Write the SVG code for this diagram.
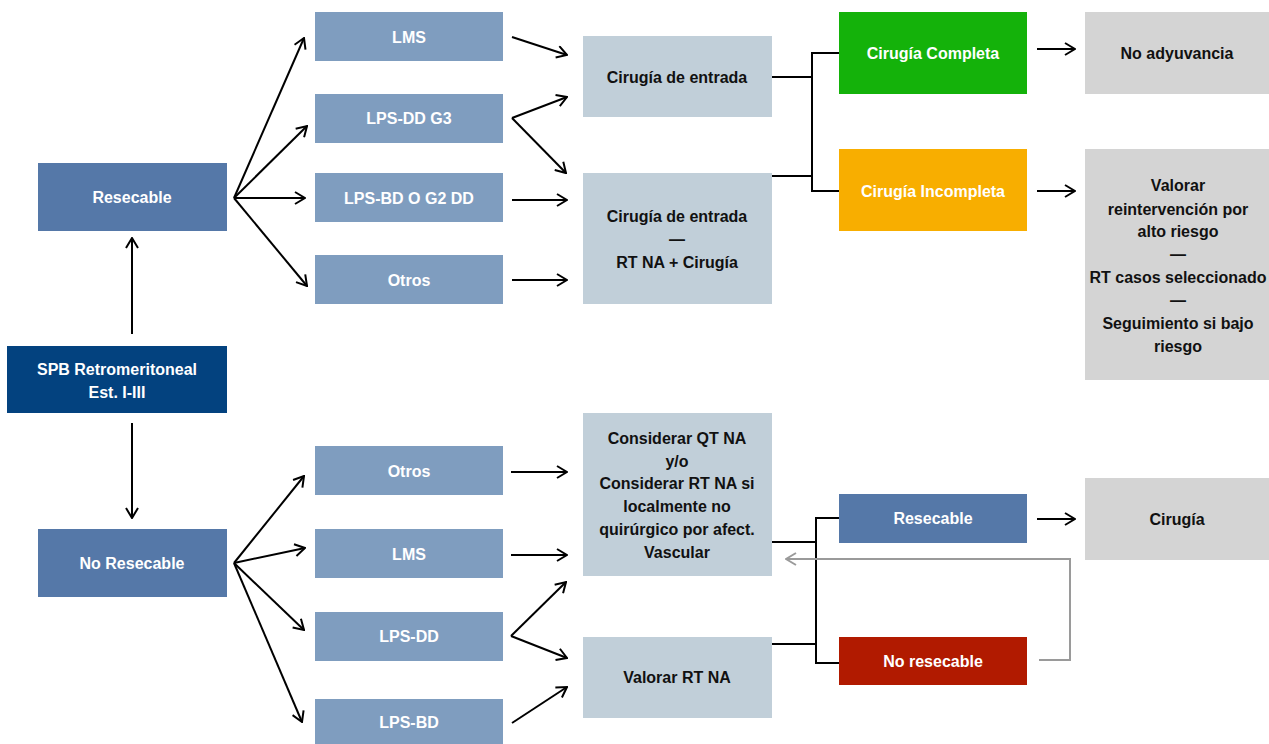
<svg xmlns="http://www.w3.org/2000/svg" width="1269" height="744" viewBox="0 0 1269 744">
<defs>
<marker id="ah" viewBox="0 0 12 14" refX="11" refY="7" markerWidth="12" markerHeight="14" markerUnits="userSpaceOnUse" orient="auto">
<path d="M1,1 L11,7 L1,13" fill="none" stroke="#000" stroke-width="2"/>
</marker>
<marker id="ahg" viewBox="0 0 12 14" refX="11" refY="7" markerWidth="12" markerHeight="14" markerUnits="userSpaceOnUse" orient="auto">
<path d="M1,1 L11,7 L1,13" fill="none" stroke="#9a9a9a" stroke-width="2"/>
</marker>
<style>
text{font-family:"Liberation Sans",Arial,sans-serif;font-weight:bold;font-size:16px;text-anchor:middle}
.w{fill:#fff}
.k{fill:#111}
.dark{fill:#03427f}
.mid{fill:#5578a8}
.lt{fill:#7f9dbf}
.pale{fill:#c1cfd9}
.gray{fill:#d4d4d4}
.ar{stroke:#000;stroke-width:2;fill:none;marker-end:url(#ah)}
.ln{stroke:#000;stroke-width:2;fill:none}
</style>
</defs>
<rect width="1269" height="744" fill="#fff"/>

<g id="connectors">
<line class="ar" x1="132" y1="334" x2="132" y2="238"/>
<line class="ar" x1="132" y1="423" x2="132" y2="518"/>
<line class="ar" x1="234" y1="198" x2="304" y2="38"/>
<line class="ar" x1="234" y1="198" x2="307" y2="126"/>
<line class="ar" x1="234" y1="198" x2="305" y2="198"/>
<line class="ar" x1="234" y1="198" x2="307" y2="286"/>
<line class="ar" x1="234" y1="563" x2="304" y2="476"/>
<line class="ar" x1="234" y1="563" x2="305" y2="548"/>
<line class="ar" x1="234" y1="563" x2="304" y2="630"/>
<line class="ar" x1="234" y1="563" x2="302" y2="722"/>
<line class="ar" x1="512" y1="37" x2="567" y2="55"/>
<line class="ar" x1="512" y1="118" x2="567" y2="97"/>
<line class="ar" x1="512" y1="118" x2="566" y2="173"/>
<line class="ar" x1="512" y1="200" x2="567" y2="200"/>
<line class="ar" x1="512" y1="280" x2="567" y2="280"/>
<line class="ar" x1="511" y1="472" x2="567" y2="472"/>
<line class="ar" x1="511" y1="555" x2="567" y2="555"/>
<line class="ar" x1="511" y1="636" x2="566" y2="582"/>
<line class="ar" x1="511" y1="636" x2="567" y2="658"/>
<line class="ar" x1="512" y1="723" x2="567" y2="687"/>
<path class="ln" d="M772,77 H812 M772,176 H812 M812,53 V191 M811,53 H839 M811,191 H839"/>
<path class="ln" d="M772,542 H816 M772,644 H816 M816,518 V663 M815,518 H839 M815,663 H839"/>
<line class="ar" x1="1037" y1="49" x2="1075" y2="49"/>
<line class="ar" x1="1037" y1="191" x2="1075" y2="191"/>
<line class="ar" x1="1037" y1="519" x2="1075" y2="519"/>
<path d="M1039,660 H1070 V559 H786" fill="none" stroke="#9a9a9a" stroke-width="2" marker-end="url(#ahg)"/>
</g>

<g id="spb"><rect class="dark" x="7" y="346" width="220" height="67"/>
<text class="w" x="117" y="374.5">SPB Retromeritoneal</text><text class="w" x="117" y="397.5">Est. I-III</text></g>
<g id="resecable"><rect class="mid" x="38" y="163" width="189" height="68"/><text class="w" x="132" y="203">Resecable</text></g>
<g id="no-resecable"><rect class="mid" x="38" y="529" width="189" height="68"/><text class="w" x="132" y="568.5">No Resecable</text></g>

<g id="t-lms"><rect class="lt" x="315" y="12" width="188" height="49"/><text class="w" x="409" y="42.5">LMS</text></g>
<g id="t-lpsdd"><rect class="lt" x="315" y="94" width="188" height="49"/><text class="w" x="409" y="123.5">LPS-DD G3</text></g>
<g id="t-lpsbd"><rect class="lt" x="315" y="173" width="188" height="49"/><text class="w" x="409" y="203.5">LPS-BD O G2 DD</text></g>
<g id="t-otros"><rect class="lt" x="315" y="255" width="188" height="49"/><text class="w" x="409" y="285.5">Otros</text></g>

<g id="b-otros"><rect class="lt" x="315" y="446" width="188" height="49"/><text class="w" x="409" y="476.5">Otros</text></g>
<g id="b-lms"><rect class="lt" x="315" y="529" width="188" height="49"/><text class="w" x="409" y="559.5">LMS</text></g>
<g id="b-lpsdd"><rect class="lt" x="315" y="612" width="188" height="49"/><text class="w" x="409" y="641.5">LPS-DD</text></g>
<g id="b-lpsbd"><rect class="lt" x="315" y="699" width="188" height="45"/><text class="w" x="409" y="727.5">LPS-BD</text></g>

<g id="cir-entrada"><rect class="pale" x="583" y="36" width="189" height="81"/><text class="k" x="677" y="82.5">Cirugía de entrada</text></g>
<g id="cir-rt"><rect class="pale" x="583" y="173" width="189" height="131"/>
<text class="k" x="677" y="221.5">Cirugía de entrada</text><text class="k" x="677" y="244.5">—</text><text class="k" x="677" y="267.5">RT NA + Cirugía</text></g>
<g id="considerar"><rect class="pale" x="583" y="413" width="189" height="163"/>
<text class="k" x="677" y="443.5">Considerar QT NA</text>
<text class="k" x="677" y="466.5">y/o</text>
<text class="k" x="677" y="489">Considerar RT NA si</text>
<text class="k" x="677" y="512">localmente no</text>
<text class="k" x="677" y="534.5">quirúrgico por afect.</text>
<text class="k" x="677" y="558">Vascular</text></g>
<g id="valorar-rt"><rect class="pale" x="583" y="637" width="189" height="81"/><text class="k" x="677" y="683">Valorar RT NA</text></g>

<g id="completa"><rect fill="#14b20a" x="839" y="12" width="188" height="82"/><text class="w" x="933" y="59">Cirugía Completa</text></g>
<g id="incompleta"><rect fill="#f8ae00" x="839" y="149" width="188" height="82"/><text class="w" x="933" y="196.5">Cirugía Incompleta</text></g>
<g id="resecable2"><rect class="mid" x="839" y="494" width="188" height="49"/><text class="w" x="933" y="524">Resecable</text></g>
<g id="no-resecable2"><rect fill="#b11a00" x="839" y="637" width="188" height="48"/><text class="w" x="933" y="666.5">No resecable</text></g>

<g id="no-adyuvancia"><rect class="gray" x="1085" y="12" width="184" height="82"/><text class="k" x="1177" y="59">No adyuvancia</text></g>
<g id="valorar-reint"><rect class="gray" x="1085" y="149" width="184" height="231"/>
<text class="k" x="1178" y="191">Valorar</text>
<text class="k" x="1178" y="214.5">reintervención por</text>
<text class="k" x="1178" y="237">alto riesgo</text>
<text class="k" x="1178" y="259.5">—</text>
<text class="k" x="1178" y="283">RT casos seleccionado</text>
<text class="k" x="1178" y="306">—</text>
<text class="k" x="1178" y="329">Seguimiento si bajo</text>
<text class="k" x="1178" y="352">riesgo</text></g>
<g id="cirugia"><rect class="gray" x="1085" y="478" width="184" height="82"/><text class="k" x="1177" y="524.5">Cirugía</text></g>
</svg>
